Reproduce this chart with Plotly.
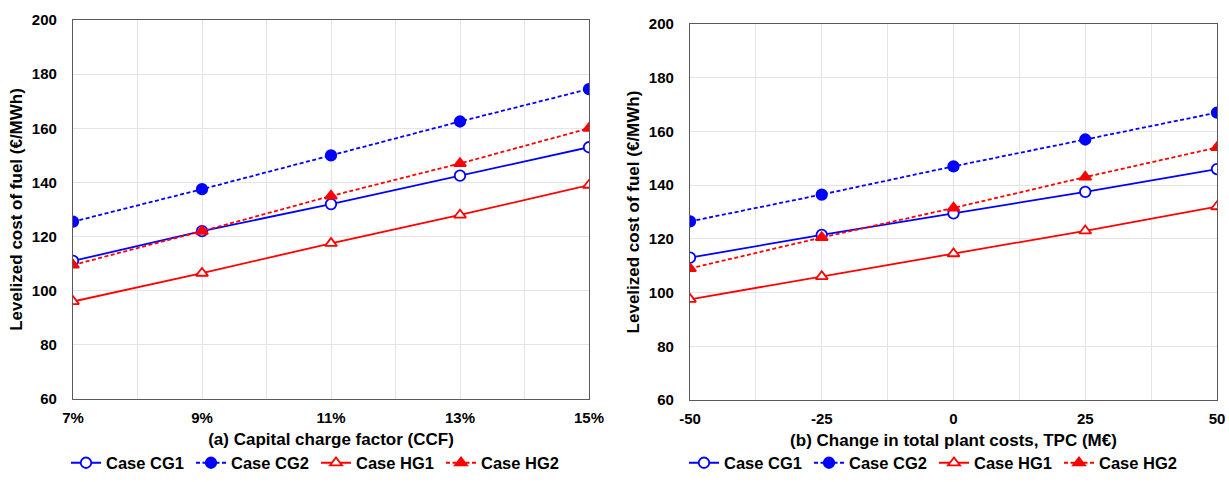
import plotly.graph_objects as go

# ---- data ----
ccf = [7, 9, 11, 13, 15]
ccf_labels = ["7%", "9%", "11%", "13%", "15%"]
tpc = [-50, -25, 0, 25, 50]
tpc_labels = ["-50", "-25", "0", "25", "50"]

ccf_cg1 = [111, 122, 132, 142.5, 153]
ccf_cg2 = [125.5, 137.5, 150, 162.5, 174.5]
ccf_hg1 = [96, 106.5, 117.5, 128, 139]
ccf_hg2 = [109.5, 122, 135, 147, 160]

tpc_cg1 = [113, 121.5, 129.5, 137.5, 146]
tpc_cg2 = [126.5, 136.5, 147, 157, 167]
tpc_hg1 = [97.5, 106, 114.5, 123, 132]
tpc_hg2 = [109, 120.5, 131.5, 143, 154]

names = ["Case CG1", "Case CG2", "Case HG1", "Case HG2"]
y_title = "Levelized cost of fuel (€/MWh)"
x_title_a = "(a) Capital charge factor (CCF)"
x_title_b = "(b) Change in total plant costs, TPC (M€)"

BLUE = "#0000ff"
RED = "#ff0000"
DASH = "4px,2.5px"
styles = [
    dict(color=BLUE, dash="solid", symbol="circle", fill="white"),
    dict(color=BLUE, dash=DASH, symbol="circle", fill=BLUE),
    dict(color=RED, dash="solid", symbol="triangle-up", fill="white"),
    dict(color=RED, dash=DASH, symbol="triangle-up", fill=RED),
]

FONT = "Liberation Sans"

fig = go.Figure()

def add_series(x, ys, xaxis, yaxis, legend):
    for name, y, st in zip(names, ys, styles):
        fig.add_trace(go.Scatter(
            x=x, y=y, name=name, mode="lines+markers",
            xaxis=xaxis, yaxis=yaxis, legend=legend,
            line=dict(color=st["color"], width=1.8, dash=st["dash"]),
            marker=dict(symbol=st["symbol"], size=10.5, color=st["fill"],
                        line=dict(color=st["color"], width=1.8)),
        ))

add_series(ccf, [ccf_cg1, ccf_cg2, ccf_hg1, ccf_hg2], "x", "y", "legend")
add_series(tpc, [tpc_cg1, tpc_cg2, tpc_hg1, tpc_hg2], "x2", "y2", "legend2")

W, H = 1229, 482
L_dom = [73 / W, 589 / W]
R_dom = [690 / W, 1217 / W]
L_ydom = [1 - 399 / H, 1 - 20 / H]
R_ydom = [1 - 400 / H, 1 - 24 / H]

tickfont = dict(family=FONT, size=15, color="black", weight="bold")
titlefont = dict(family=FONT, size=17, color="black", weight="bold")
axis_common = dict(showline=True, linecolor="#595959", linewidth=1.3, mirror=True,
                   gridcolor="#e4e4e4", gridwidth=1, zeroline=False,
                   ticks="", tickfont=tickfont)
legfont = dict(family=FONT, size=16.5, color="black", weight="bold")

fig.update_layout(
    width=W, height=H,
    margin=dict(l=0, r=0, t=0, b=0, autoexpand=False),
    paper_bgcolor="white", plot_bgcolor="white",
    font=dict(family=FONT, color="black"),
    xaxis=dict(domain=L_dom, anchor="y", range=[7, 15], tickvals=ccf, ticktext=ccf_labels,
               minor=dict(dtick=1, tick0=7, showgrid=True, gridcolor="#e4e4e4"),
               ticklabelstandoff=5,
               title=dict(text=x_title_a, font=titlefont, standoff=7), **axis_common),
    yaxis=dict(domain=L_ydom, anchor="x", range=[60, 200], dtick=20,
               ticklabelstandoff=12,
               title=dict(text=y_title, font=titlefont, standoff=4), **axis_common),
    xaxis2=dict(domain=R_dom, anchor="y2", range=[-50, 50], tickvals=tpc, ticktext=tpc_labels,
                minor=dict(dtick=12.5, tick0=-50, showgrid=True, gridcolor="#e4e4e4"),
                ticklabelstandoff=5,
                title=dict(text=x_title_b, font=titlefont, standoff=7), **axis_common),
    yaxis2=dict(domain=R_ydom, anchor="x2", range=[60, 200], dtick=20,
                ticklabelstandoff=12,
                title=dict(text=y_title, font=titlefont, standoff=4), **axis_common),
    legend=dict(orientation="h", x=66 / W, xanchor="left", y=1 - 463 / H, yanchor="middle",
                font=legfont, itemwidth=30, entrywidth=80, entrywidthmode="pixels",
                bgcolor="rgba(0,0,0,0)", traceorder="normal"),
    legend2=dict(orientation="h", x=684 / W, xanchor="left", y=1 - 463 / H, yanchor="middle",
                 font=legfont, itemwidth=30, entrywidth=80, entrywidthmode="pixels",
                 bgcolor="rgba(0,0,0,0)", traceorder="normal"),
)

fig.write_html("out.html", config={"displayModeBar": False},
               post_script="document.body.style.margin='0';document.body.style.overflow='hidden';")
